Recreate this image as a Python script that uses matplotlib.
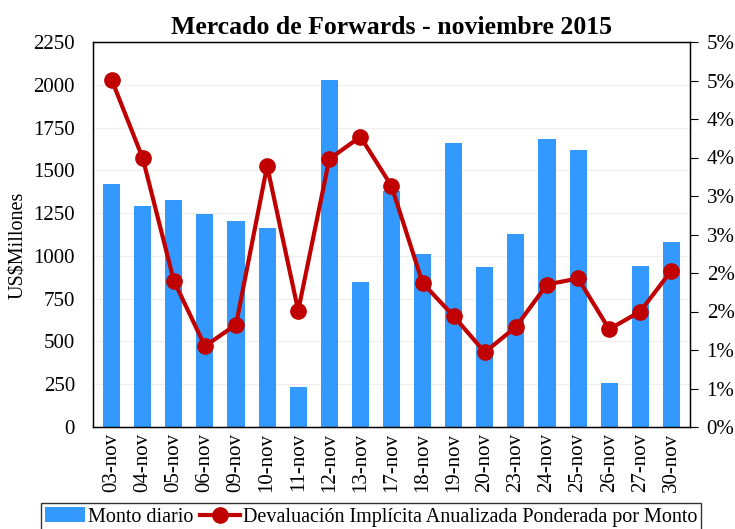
import matplotlib
matplotlib.use("Agg")
import matplotlib.pyplot as plt
from matplotlib.ticker import FuncFormatter, MultipleLocator

plt.rcParams['font.family'] = ['Liberation Serif', 'DejaVu Serif']

categories = ["03-nov", "04-nov", "05-nov", "06-nov", "09-nov", "10-nov", "11-nov",
              "12-nov", "13-nov", "17-nov", "18-nov", "19-nov", "20-nov", "23-nov",
              "24-nov", "25-nov", "26-nov", "27-nov", "30-nov"]
monto = [1419, 1294, 1325, 1245, 1204, 1161, 232, 2028, 845, 1378, 1009, 1657,
         935, 1128, 1686, 1620, 260, 941, 1081]
devaluacion = [4.51, 3.49, 1.90, 1.05, 1.33, 3.39, 1.51, 3.48, 3.77, 3.13, 1.87,
               1.44, 0.97, 1.30, 1.85, 1.93, 1.27, 1.50, 2.03]

fig = plt.figure(figsize=(7.35, 5.29), dpi=100)
ax = fig.add_axes([93/735, 1 - 427/529, (690-93)/735, (427-42)/529])
x = list(range(len(categories)))
b = ax.bar(x, monto, width=0.55, color="#3399FF", zorder=2, label="Monto diario")
ax.set_ylim(0, 2250)
ax.set_xlim(-0.6, len(categories) - 0.4)
ax.yaxis.set_major_locator(MultipleLocator(250))
ax.grid(axis='y', color="#EEEEEE", linewidth=0.8, zorder=0)
ax.set_xticks(x)
ax.set_xticklabels(categories, rotation=90, fontsize=15)
ax.tick_params(axis='y', labelsize=15, length=0, pad=13)
ax.tick_params(axis='x', length=0, pad=4)
ax.set_ylabel("US$Millones", fontsize=14.5)
ax.yaxis.set_label_coords(-0.108, 0.473)
for s in ax.spines.values():
    s.set_linewidth(1.0)

ax2 = ax.twinx()
l, = ax2.plot(x, devaluacion, color="#C00000", linewidth=3, marker='o', markersize=11,
              zorder=3, label="Devaluación Implícita Anualizada Ponderada por Monto")
ax2.set_ylim(0, 5)
ax2.yaxis.set_major_locator(MultipleLocator(0.5))
ax2.yaxis.set_major_formatter(FuncFormatter(lambda v, p: "%d%%" % int(v + 0.5)))
ax2.tick_params(axis='y', labelsize=15, length=6, direction='out', pad=6)

ax.set_title("Mercado de Forwards - noviembre 2015", fontsize=18.5, fontweight='bold', pad=6)

leg = fig.legend(handles=[b, l], loc='lower center', bbox_to_anchor=(0.505, -0.003), ncol=2,
                 fontsize=14.5, frameon=True, fancybox=False, edgecolor='black',
                 handlelength=2.0, handletextpad=0.15, columnspacing=0.3,
                 borderpad=0.2, borderaxespad=0)
leg.get_frame().set_linewidth(1.0)

fig.savefig("out.png", dpi=100)
